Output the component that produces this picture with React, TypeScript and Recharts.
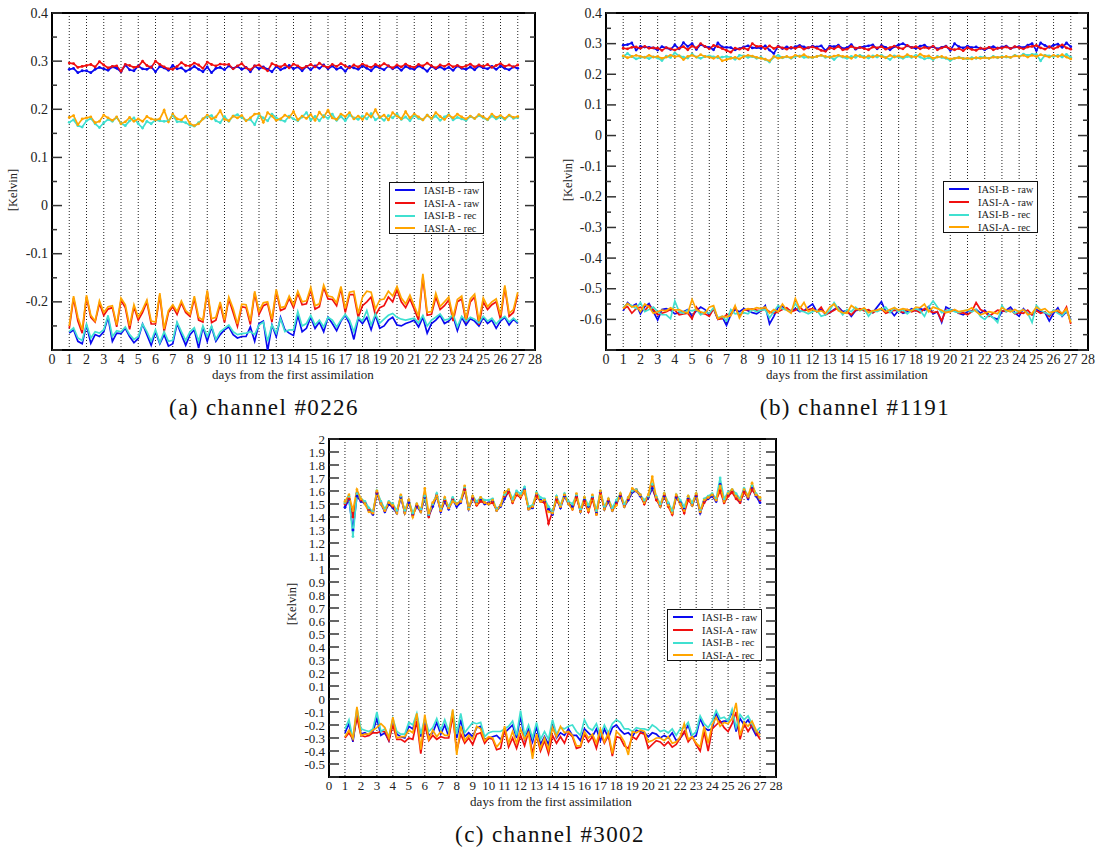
import React from 'react';
import { LineChart, Line, XAxis, YAxis, CartesianGrid, ReferenceArea } from 'recharts';

// 6-hourly analyses, first one on day 1
const FIRST_DAY = 1;
const STEPS_PER_DAY = 4;

const dayTicks = [0, 1, 2, 3, 4, 5, 6, 7, 8, 9, 10, 11, 12, 13, 14, 15, 16, 17, 18, 19, 20, 21, 22, 23, 24, 25, 26, 27, 28];

const seriesNames = ['IASI-B - raw', 'IASI-A - raw', 'IASI-B - rec', 'IASI-A - rec'];
const seriesColors = ['#0a0af0', '#f01010', '#40e0d0', '#ffa500'];

// all values below in mK

// channel 0226
const a_bRawHi = [
  283, 285, 276, 280, 280, 276, 283, 287, 284, 281, 288, 285, 278, 292, 282, 280, 290, 284, 283, 288,
  278, 289, 286, 281, 291, 284, 286, 279, 283, 289, 283, 278, 288, 276, 285, 287, 282, 290, 285, 289,
  283, 287, 278, 290, 284, 288, 283, 278, 289, 282, 286, 291, 284, 288, 280, 289, 282, 290, 285, 292,
  284, 290, 283, 287, 279, 289, 286, 283, 290, 285, 280, 289, 286, 282, 290, 284, 288, 281, 289, 285,
  283, 290, 286, 279, 289, 284, 288, 283, 287, 281, 290, 285, 283, 288, 282, 290, 286, 284, 289, 283,
  290, 285, 282, 288, 285,
];
const a_aRawHi = [
  296, 295, 287, 289, 291, 293, 288, 299, 292, 286, 289, 290, 279, 293, 291, 287, 289, 300, 291, 287,
  300, 293, 288, 284, 283, 289, 297, 291, 290, 296, 292, 285, 298, 293, 290, 294, 293, 293, 284, 290,
  295, 286, 282, 290, 292, 286, 280, 295, 291, 288, 293, 286, 294, 290, 285, 289, 293, 288, 296, 290,
  287, 293, 289, 295, 290, 286, 292, 288, 294, 290, 287, 293, 289, 295, 290, 286, 292, 288, 294, 289,
  287, 293, 290, 296, 290, 286, 292, 289, 294, 288, 291, 287, 290, 294, 288, 292, 289, 293, 287, 291,
  295, 289, 292, 288, 292,
];
const a_bRecHi = [
  173, 178, 166, 163, 176, 181, 170, 162, 172, 179, 175, 183, 171, 166, 176, 182, 170, 161, 175, 170,
  178, 176, 175, 176, 188, 174, 175, 172, 167, 165, 172, 180, 185, 187, 176, 172, 185, 175, 186, 189,
  183, 177, 179, 168, 188, 182, 176, 190, 182, 178, 175, 186, 180, 176, 184, 193, 178, 185, 176, 187,
  181, 190, 177, 185, 176, 188, 182, 179, 186, 180, 191, 178, 184, 177, 187, 182, 190, 179, 184, 176,
  187, 181, 178, 188, 180, 186, 177, 184, 189, 178, 183, 180, 177, 185, 181, 187, 182, 178, 186, 180,
  184, 179, 187, 181, 183,
];
const a_aRecHi = [
  183, 187, 168, 180, 182, 184, 172, 175, 188, 182, 177, 184, 170, 174, 183, 175, 180, 175, 185, 180,
  178, 180, 198, 174, 190, 180, 178, 186, 170, 166, 170, 180, 188, 180, 184, 197, 179, 176, 186, 182,
  187, 176, 182, 190, 191, 173, 193, 186, 177, 180, 188, 183, 195, 178, 186, 181, 189, 177, 194, 184,
  198, 182, 179, 190, 185, 193, 180, 186, 179, 191, 184, 199, 183, 188, 178, 193, 186, 180, 195, 182,
  190, 184, 178, 188, 181, 193, 185, 179, 188, 182, 190, 184, 180, 186, 181, 189, 184, 179, 190, 183,
  187, 181, 188, 183, 185,
];
const a_bRawLo = [
  -265, -258, -282, -287, -248, -286, -268, -272, -262, -232, -282, -265, -266, -255, -272, -285, -276, -246, -268, -290,
  -262, -287, -268, -292, -287, -245, -268, -290, -268, -258, -296, -252, -282, -252, -282, -268, -258, -252, -268, -275,
  -272, -272, -252, -282, -245, -240, -302, -248, -272, -232, -258, -265, -270, -228, -262, -255, -232, -255, -242, -262,
  -232, -245, -260, -240, -228, -245, -278, -235, -245, -232, -258, -228, -255, -250, -238, -232, -248, -250, -245, -242,
  -238, -252, -232, -265, -245, -238, -228, -245, -240, -230, -260, -232, -248, -235, -240, -250, -232, -245, -238, -255,
  -240, -232, -248, -236, -245,
];
const a_aRawLo = [
  -255, -192, -240, -265, -190, -232, -242, -203, -228, -215, -212, -252, -197, -212, -257, -210, -238, -222, -200, -246,
  -246, -186, -262, -222, -210, -226, -202, -222, -230, -193, -238, -242, -178, -243, -238, -205, -243, -194, -222, -251,
  -210, -212, -247, -182, -226, -208, -204, -242, -178, -218, -214, -193, -212, -182, -206, -204, -175, -215, -210, -170,
  -194, -195, -208, -172, -222, -185, -185, -232, -208, -200, -190, -228, -212, -208, -190, -200, -175, -200, -212, -194,
  -215, -238, -148, -228, -226, -190, -216, -208, -196, -240, -200, -194, -242, -200, -190, -248, -200, -216, -206, -200,
  -236, -170, -230, -222, -185,
];
const a_bRecLo = [
  -262, -254, -275, -280, -246, -275, -262, -265, -258, -228, -272, -260, -262, -252, -268, -278, -272, -246, -262, -282,
  -258, -285, -262, -282, -280, -242, -262, -280, -262, -254, -282, -250, -272, -250, -278, -262, -255, -248, -262, -268,
  -266, -265, -262, -268, -248, -242, -282, -248, -265, -235, -262, -258, -258, -220, -250, -245, -228, -248, -238, -252,
  -232, -238, -252, -238, -226, -238, -262, -232, -240, -218, -248, -225, -244, -236, -228, -224, -232, -236, -238, -236,
  -234, -244, -228, -250, -238, -232, -225, -238, -236, -226, -252, -230, -240, -232, -236, -244, -230, -240, -234, -246,
  -236, -230, -242, -234, -242,
];
const a_aRecLo = [
  -250, -188, -232, -258, -186, -228, -240, -198, -222, -210, -208, -248, -192, -206, -250, -206, -232, -216, -196, -240,
  -242, -182, -256, -218, -206, -220, -198, -218, -226, -188, -232, -238, -176, -235, -232, -200, -238, -190, -214, -246,
  -205, -206, -240, -178, -220, -202, -200, -236, -174, -212, -210, -188, -206, -178, -200, -198, -170, -208, -204, -165,
  -188, -190, -202, -168, -214, -180, -178, -224, -190, -178, -180, -215, -196, -194, -178, -188, -168, -192, -204, -186,
  -208, -230, -142, -222, -220, -182, -210, -200, -190, -232, -195, -188, -236, -194, -184, -240, -192, -210, -200, -194,
  -228, -166, -224, -216, -180,
];

// channel 1191
const b_bRawHi = [
  295, 297, 302, 279, 291, 289, 288, 286, 279, 290, 286, 281, 296, 283, 303, 291, 300, 281, 297, 290,
  288, 280, 302, 289, 288, 287, 280, 284, 289, 293, 286, 287, 285, 293, 279, 268, 292, 284, 289, 285,
  290, 294, 289, 286, 292, 289, 293, 277, 292, 290, 295, 284, 287, 297, 282, 288, 290, 293, 296, 283,
  294, 288, 280, 290, 296, 300, 293, 288, 285, 292, 295, 286, 290, 283, 288, 292, 278, 300, 290, 286,
  292, 287, 289, 285, 280, 287, 290, 285, 289, 292, 284, 289, 290, 287, 295, 300, 278, 302, 294, 288,
  295, 298, 288, 302, 290,
];
const b_aRawHi = [
  285, 283, 288, 289, 285, 291, 285, 286, 285, 278, 287, 283, 279, 285, 290, 280, 292, 286, 300, 291,
  283, 294, 290, 284, 278, 272, 285, 282, 286, 280, 300, 291, 292, 283, 293, 284, 290, 286, 282, 288,
  285, 290, 282, 287, 289, 285, 278, 275, 287, 283, 291, 280, 282, 291, 285, 288, 284, 280, 289, 286,
  290, 282, 287, 292, 286, 283, 294, 287, 290, 283, 288, 285, 292, 280, 286, 290, 283, 280, 284, 277,
  287, 281, 278, 285, 283, 288, 280, 285, 286, 289, 284, 290, 287, 283, 289, 291, 294, 286, 282, 290,
  283, 289, 296, 286, 282,
];
const b_bRecHi = [
  258, 268, 258, 250, 255, 256, 251, 257, 253, 245, 259, 255, 270, 260, 256, 253, 266, 256, 252, 258,
  260, 257, 254, 256, 258, 255, 249, 262, 260, 255, 258, 252, 255, 248, 240, 256, 262, 254, 257, 252,
  258, 260, 255, 256, 254, 258, 262, 255, 258, 248, 260, 256, 252, 258, 255, 262, 257, 253, 260, 256,
  262, 255, 248, 260, 256, 252, 258, 255, 262, 256, 250, 254, 248, 258, 255, 252, 245, 252, 256, 252,
  250, 254, 252, 256, 255, 252, 258, 254, 258, 256, 255, 262, 258, 266, 262, 265, 265, 244, 262, 260,
  258, 262, 256, 265, 255,
];
const b_aRecHi = [
  260, 254, 258, 262, 258, 255, 262, 256, 258, 252, 256, 262, 257, 260, 248, 258, 262, 256, 264, 258,
  256, 252, 258, 244, 248, 252, 255, 250, 258, 262, 259, 255, 252, 249, 244, 258, 252, 255, 258, 254,
  262, 258, 264, 256, 255, 258, 262, 258, 256, 259, 262, 258, 258, 252, 262, 258, 254, 260, 256, 262,
  258, 254, 262, 256, 260, 256, 264, 258, 256, 266, 258, 260, 252, 256, 258, 254, 250, 252, 254, 251,
  252, 250, 254, 252, 254, 252, 256, 255, 256, 258, 255, 260, 258, 262, 256, 262, 258, 264, 260, 256,
  262, 258, 264, 256, 250,
];
const b_bRawLo = [
  -572, -545, -558, -550, -582, -558, -548, -575, -602, -568, -565, -570, -582, -578, -575, -568, -590, -572, -560, -568,
  -585, -565, -600, -592, -620, -585, -568, -575, -565, -572, -578, -582, -572, -555, -615, -590, -560, -558, -568, -572,
  -565, -575, -572, -560, -550, -575, -568, -582, -578, -568, -560, -575, -572, -590, -572, -568, -568, -570, -578, -560,
  -542, -575, -570, -588, -570, -580, -575, -565, -572, -565, -570, -558, -582, -575, -610, -560, -568, -572, -580, -585,
  -575, -572, -568, -580, -570, -585, -595, -600, -575, -570, -560, -578, -590, -565, -580, -585, -568, -575, -578, -605,
  -580, -562, -590, -575, -600,
];
const b_aRawLo = [
  -565, -558, -580, -565, -560, -572, -555, -568, -585, -580, -575, -568, -570, -585, -582, -580, -598, -560, -580, -582,
  -590, -565, -600, -598, -585, -582, -560, -590, -570, -568, -566, -570, -572, -565, -575, -580, -575, -568, -562, -575,
  -570, -560, -572, -568, -565, -575, -560, -585, -578, -570, -562, -580, -575, -585, -570, -565, -572, -568, -578, -570,
  -565, -580, -575, -570, -572, -578, -568, -575, -570, -578, -565, -572, -578, -575, -605, -570, -575, -570, -580, -578,
  -585, -575, -545, -568, -575, -590, -580, -570, -572, -575, -568, -582, -578, -580, -570, -585, -572, -580, -575, -590,
  -570, -575, -585, -560, -615,
];
const b_bRecLo = [
  -560, -550, -555, -565, -545, -575, -568, -560, -575, -585, -585, -598, -540, -575, -580, -570, -572, -568, -585, -575,
  -580, -562, -595, -590, -605, -568, -582, -580, -578, -582, -568, -575, -570, -568, -595, -575, -555, -565, -570, -575,
  -548, -572, -575, -582, -575, -570, -590, -585, -570, -545, -565, -585, -568, -575, -560, -572, -565, -590, -572, -575,
  -568, -560, -578, -562, -575, -568, -582, -570, -565, -572, -590, -560, -540, -560, -578, -572, -568, -575, -578, -572,
  -570, -575, -568, -590, -600, -585, -595, -610, -555, -575, -570, -580, -572, -570, -580, -610, -555, -570, -578, -585,
  -570, -580, -588, -572, -605,
];
const b_aRecLo = [
  -565, -548, -560, -555, -575, -550, -560, -580, -575, -570, -572, -562, -570, -568, -575, -580, -535, -570, -575, -580,
  -560, -555, -598, -590, -592, -588, -555, -595, -570, -565, -568, -562, -565, -560, -580, -568, -575, -550, -570, -580,
  -532, -565, -545, -575, -568, -575, -572, -580, -560, -550, -572, -578, -580, -555, -565, -570, -562, -578, -572, -570,
  -565, -575, -568, -562, -570, -565, -568, -572, -560, -562, -550, -575, -560, -565, -570, -578, -575, -568, -575, -572,
  -570, -562, -575, -585, -580, -575, -578, -582, -562, -570, -575, -568, -575, -568, -585, -580, -560, -570, -565, -578,
  -575, -570, -580, -565, -610,
];

// channel 3002
const c_bRawHi = [
  1475, 1535, 1300, 1560, 1520, 1505, 1450, 1420, 1580, 1500, 1440, 1500, 1470, 1430, 1550, 1430, 1510, 1420, 1480, 1440,
  1550, 1410, 1480, 1560, 1440, 1520, 1460, 1530, 1480, 1510, 1610, 1460, 1540, 1510, 1530, 1500, 1510, 1520, 1450, 1480,
  1540, 1600, 1520, 1580, 1560, 1610, 1460, 1470, 1570, 1530, 1520, 1460, 1420, 1540, 1470, 1560, 1500, 1480, 1560, 1440,
  1530, 1480, 1550, 1430, 1590, 1460, 1520, 1450, 1510, 1560, 1480, 1530, 1590, 1600, 1560, 1510, 1550, 1620, 1540, 1480,
  1560, 1500, 1430, 1550, 1510, 1460, 1540, 1490, 1560, 1430, 1520, 1540, 1560, 1520, 1650, 1520, 1570, 1600, 1560, 1520,
  1600, 1540, 1620, 1560, 1510,
];
const c_aRawHi = [
  1500, 1540, 1400, 1580, 1530, 1510, 1460, 1430, 1590, 1510, 1450, 1510, 1480, 1440, 1560, 1440, 1530, 1410, 1490, 1450,
  1560, 1400, 1500, 1570, 1450, 1530, 1470, 1540, 1500, 1520, 1610, 1470, 1550, 1490, 1520, 1510, 1500, 1510, 1460, 1490,
  1560, 1590, 1510, 1570, 1550, 1600, 1470, 1480, 1560, 1520, 1510, 1350, 1440, 1530, 1480, 1570, 1510, 1460, 1550, 1450,
  1520, 1440, 1540, 1420, 1580, 1470, 1530, 1460, 1500, 1570, 1490, 1540, 1600, 1610, 1570, 1500, 1560, 1640, 1530, 1490,
  1570, 1480, 1420, 1560, 1500, 1430, 1530, 1500, 1570, 1440, 1510, 1550, 1570, 1530, 1600, 1510, 1560, 1590, 1540, 1510,
  1590, 1550, 1610, 1570, 1530,
];
const c_bRecHi = [
  1510, 1560, 1250, 1580, 1540, 1520, 1470, 1440, 1600, 1520, 1460, 1520, 1500, 1450, 1560, 1450, 1530, 1430, 1500, 1460,
  1560, 1420, 1500, 1580, 1460, 1540, 1480, 1550, 1500, 1530, 1630, 1470, 1560, 1520, 1550, 1530, 1530, 1540, 1460, 1490,
  1570, 1610, 1540, 1600, 1580, 1630, 1480, 1490, 1590, 1550, 1540, 1480, 1440, 1560, 1490, 1580, 1520, 1500, 1570, 1460,
  1550, 1490, 1560, 1450, 1600, 1480, 1540, 1470, 1530, 1580, 1500, 1550, 1600, 1610, 1570, 1530, 1560, 1650, 1560, 1500,
  1580, 1510, 1450, 1570, 1530, 1480, 1560, 1510, 1580, 1450, 1540, 1560, 1580, 1540, 1700, 1540, 1590, 1610, 1580, 1540,
  1620, 1560, 1640, 1580, 1540,
];
const c_aRecHi = [
  1520, 1570, 1450, 1610, 1540, 1500, 1440, 1430, 1600, 1500, 1450, 1510, 1490, 1430, 1570, 1430, 1530, 1400, 1500, 1440,
  1620, 1430, 1510, 1560, 1450, 1550, 1470, 1520, 1500, 1520, 1640, 1460, 1560, 1500, 1550, 1510, 1500, 1530, 1450, 1490,
  1590, 1610, 1520, 1580, 1560, 1600, 1460, 1480, 1580, 1520, 1530, 1440, 1430, 1550, 1480, 1570, 1500, 1460, 1580, 1440,
  1550, 1450, 1570, 1420, 1600, 1460, 1540, 1450, 1490, 1580, 1480, 1550, 1620, 1600, 1570, 1510, 1570, 1710, 1550, 1480,
  1580, 1490, 1430, 1570, 1500, 1450, 1560, 1490, 1580, 1440, 1530, 1550, 1570, 1530, 1640, 1520, 1580, 1610, 1560, 1530,
  1610, 1560, 1660, 1570, 1550,
];
const c_bRawLo = [
  -260, -190, -330, -110, -270, -260, -280, -250, -150, -280, -260, -320, -170, -270, -290, -300, -210, -230, -130, -290,
  -170, -280, -260, -180, -270, -200, -290, -110, -300, -160, -290, -260, -290, -220, -210, -310, -300, -290, -280, -310,
  -260, -230, -200, -300, -130, -310, -230, -330, -210, -350, -290, -350, -200, -300, -260, -280, -230, -280, -280, -320,
  -230, -260, -290, -230, -320, -230, -300, -220, -200, -240, -270, -260, -290, -240, -250, -260, -290, -260, -270, -300,
  -280, -300, -260, -320, -300, -260, -200, -300, -280, -150, -220, -240, -230, -110, -180, -170, -170, -100, -250, -150,
  -200, -160, -220, -280, -250,
];
const c_aRawLo = [
  -300, -260, -310, -140, -280, -290, -280, -260, -260, -250, -250, -320, -200, -310, -310, -330, -300, -310, -170, -420,
  -200, -320, -280, -310, -290, -300, -300, -130, -400, -270, -340, -300, -350, -270, -260, -340, -300, -310, -390, -380,
  -230, -370, -300, -380, -280, -360, -250, -420, -280, -400, -320, -420, -280, -340, -290, -340, -260, -290, -380, -370,
  -270, -330, -290, -380, -260, -340, -280, -440, -290, -300, -360, -380, -290, -310, -260, -270, -380, -350, -320, -330,
  -360, -330, -370, -350, -300, -250, -330, -290, -350, -400, -250, -400, -230, -200, -170, -220, -250, -190, -100, -310,
  -190, -250, -200, -260, -310,
];
const c_bRecLo = [
  -230, -160, -310, -70, -230, -240, -250, -230, -100, -250, -230, -290, -150, -250, -270, -270, -180, -200, -110, -270,
  -150, -250, -220, -150, -240, -160, -250, -90, -270, -110, -260, -220, -180, -190, -180, -290, -260, -250, -250, -250,
  -230, -210, -170, -280, -90, -280, -200, -300, -180, -310, -250, -310, -160, -270, -220, -230, -210, -200, -250, -280,
  -160, -220, -240, -190, -280, -200, -260, -190, -160, -180, -230, -230, -250, -220, -230, -230, -240, -200, -220, -250,
  -240, -260, -230, -280, -230, -220, -180, -280, -250, -130, -190, -220, -170, -90, -150, -140, -170, -80, -220, -120,
  -160, -130, -190, -250, -220,
];
const c_aRecLo = [
  -290, -240, -300, -60, -280, -270, -270, -240, -220, -190, -220, -300, -140, -300, -290, -290, -240, -260, -110, -390,
  -120, -310, -240, -290, -250, -280, -280, -80, -430, -210, -320, -280, -310, -210, -230, -320, -290, -300, -370, -330,
  -210, -340, -250, -340, -230, -310, -260, -460, -270, -380, -300, -390, -220, -290, -210, -260, -250, -280, -360, -360,
  -250, -300, -270, -340, -230, -330, -260, -420, -250, -280, -330, -430, -250, -260, -240, -250, -330, -320, -300, -300,
  -320, -290, -340, -330, -290, -190, -310, -290, -340, -370, -210, -340, -200, -140, -210, -180, -190, -150, -30, -280,
  -180, -210, -170, -240, -280,
];

const ticksA = [-0.3, -0.25, -0.2, -0.15, -0.1, -0.05, 0, 0.05, 0.1, 0.15, 0.2, 0.25, 0.3, 0.35, 0.4];
const ticksB = [-0.7, -0.65, -0.6, -0.55, -0.5, -0.45, -0.4, -0.35, -0.3, -0.25, -0.2, -0.15, -0.1, -0.05, 0, 0.05, 0.1, 0.15, 0.2, 0.25, 0.3, 0.35, 0.4];
const ticksC = [-0.6, -0.5, -0.4, -0.3, -0.2, -0.1, 0, 0.1, 0.2, 0.3, 0.4, 0.5, 0.6, 0.7, 0.8, 0.9, 1, 1.1, 1.2, 1.3, 1.4, 1.5, 1.6, 1.7, 1.8, 1.9, 2];

const SERIF = "'Liberation Serif', 'DejaVu Serif', 'Times New Roman', Times, serif";

type PanelSpec = {
  id: string;
  caption: string;
  plot: { x: number; y: number; w: number; h: number };
  domain: [number, number];
  ticks: number[];
  tickFont: number;
  hi: number[][]; // upper curves, legend order
  lo: number[][]; // lower curves, legend order
  legend: { x: number; y: number };
  yTitle: { x: number; y: number };
  xTitle: { x: number; y: number };
  captionPos: { x: number; y: number };
};

const panels: PanelSpec[] = [
  {
    id: 'a',
    caption: '(a) channel #0226',
    plot: { x: 52, y: 13, w: 483, h: 337 },
    domain: [-0.3, 0.4],
    ticks: ticksA,
    tickFont: 14,
    hi: [a_bRawHi, a_aRawHi, a_bRecHi, a_aRecHi],
    lo: [a_bRawLo, a_aRawLo, a_bRecLo, a_aRecLo],
    legend: { x: 389, y: 182 },
    yTitle: { x: 13, y: 190 },
    xTitle: { x: 293, y: 375 },
    captionPos: { x: 264, y: 408 },
  },
  {
    id: 'b',
    caption: '(b) channel #1191',
    plot: { x: 606, y: 13, w: 482, h: 337 },
    domain: [-0.7, 0.4],
    ticks: ticksB,
    tickFont: 14,
    hi: [b_bRawHi, b_aRawHi, b_bRecHi, b_aRecHi],
    lo: [b_bRawLo, b_aRawLo, b_bRecLo, b_aRecLo],
    legend: { x: 943, y: 181 },
    yTitle: { x: 568, y: 180 },
    xTitle: { x: 847, y: 375 },
    captionPos: { x: 855, y: 408 },
  },
  {
    id: 'c',
    caption: '(c) channel #3002',
    plot: { x: 329, y: 439, w: 447, h: 338 },
    domain: [-0.6, 2],
    ticks: ticksC,
    tickFont: 13,
    hi: [c_bRawHi, c_aRawHi, c_bRecHi, c_aRecHi],
    lo: [c_bRawLo, c_aRawLo, c_bRecLo, c_aRecLo],
    legend: { x: 667, y: 609 },
    yTitle: { x: 292, y: 604 },
    xTitle: { x: 551, y: 802 },
    captionPos: { x: 550, y: 835 },
  },
];

const MARGIN = { top: 10, right: 10, left: 0, bottom: 0 };
const Y_W = 50;
const X_H = 30;

const fmt = (v: number) => String(Math.round(v * 10) / 10);
const isMajor = (v: number) => Math.abs(v * 10 - Math.round(v * 10)) < 1e-6;

const YTick = (props: any) => {
  const { x, y, payload, plotW, lo, fontSize } = props;
  const v = payload.value as number;
  const major = isMajor(v);
  const len = major ? 10 : 5;
  return (
    <g>
      <line x1={x} x2={x + len} y1={y} y2={y} stroke="#333" strokeWidth={1.5} />
      <line x1={x + plotW} x2={x + plotW - len} y1={y} y2={y} stroke="#333" strokeWidth={1.5} />
      {major && v > lo + 1e-6 && (
        <text x={x - 4} y={y} textAnchor="end" dominantBaseline="central" fontSize={fontSize} style={{ fontFamily: SERIF }} fill="#222">
          {fmt(v)}
        </text>
      )}
    </g>
  );
};

const XTick = (props: any) => {
  const { x, y, payload, fontSize } = props;
  return (
    <text x={x} y={y} dy="0.75em" textAnchor="middle" fontSize={fontSize} style={{ fontFamily: SERIF }} fill="#222">
      {payload.value}
    </text>
  );
};

const Legend = ({ x, y }: { x: number; y: number }) => (
  <div
    style={{
      position: 'absolute',
      left: x,
      top: y,
      width: 95,
      height: 52,
      boxSizing: 'border-box',
      border: '1.5px solid #111',
      background: '#fff',
      padding: '1px 0 0 5px',
      fontFamily: SERIF,
      fontSize: 10.5,
      color: '#222',
    }}
  >
    {seriesNames.map((name, i) => (
      <div key={name} style={{ display: 'flex', alignItems: 'center', height: 12.7 }}>
        <span style={{ display: 'inline-block', width: 20, height: 2, background: seriesColors[i], marginRight: 9 }} />
        <span>{name}</span>
      </div>
    ))}
  </div>
);

const Panel = ({ spec }: { spec: PanelSpec }) => {
  const { plot, domain } = spec;
  const rows = spec.hi[0].map((_, i) => {
    const row: Record<string, number> = { day: FIRST_DAY + i / STEPS_PER_DAY };
    spec.hi.forEach((s, k) => (row[`hi${k}`] = s[i] / 1000));
    spec.lo.forEach((s, k) => (row[`lo${k}`] = s[i] / 1000));
    return row;
  });
  const width = Y_W + plot.w + MARGIN.left + MARGIN.right;
  const height = plot.h + X_H + MARGIN.top + MARGIN.bottom;

  return (
    <>
      <div style={{ position: 'absolute', left: plot.x - Y_W - MARGIN.left, top: plot.y - MARGIN.top }}>
        <LineChart width={width} height={height} data={rows} margin={MARGIN}>
          <CartesianGrid horizontal={false} stroke="#222" strokeDasharray="1 2" strokeWidth={1} />
          <XAxis
            dataKey="day"
            type="number"
            domain={[0, 28]}
            ticks={dayTicks}
            interval={0}
            height={X_H}
            axisLine={false}
            tickLine={false}
            tickSize={0}
            tickMargin={3}
            tick={(p: any) => <XTick {...p} fontSize={spec.tickFont} />}
          />
          <YAxis
            type="number"
            domain={domain}
            ticks={spec.ticks}
            interval={0}
            width={Y_W}
            allowDataOverflow
            axisLine={false}
            tickLine={false}
            tickSize={0}
            tickMargin={0}
            tick={(p: any) => <YTick {...p} plotW={plot.w} lo={domain[0]} fontSize={spec.tickFont} />}
          />
          <ReferenceArea x1={0} x2={28} y1={domain[0]} y2={domain[1]} fill="none" stroke="#000" strokeWidth={2} ifOverflow="visible" />
          {spec.lo.map((_, k) => (
            <Line
              key={`lo${k}`}
              dataKey={`lo${k}`}
              type="linear"
              stroke={seriesColors[k]}
              strokeWidth={1.7}
              dot={false}
              activeDot={false}
              isAnimationActive={false}
            />
          ))}
          {spec.hi.map((_, k) => (
            <Line
              key={`hi${k}`}
              dataKey={`hi${k}`}
              type="linear"
              stroke={seriesColors[k]}
              strokeWidth={1.7}
              dot={{ r: 1.4, fill: seriesColors[k], stroke: 'none' }}
              activeDot={false}
              isAnimationActive={false}
            />
          ))}
        </LineChart>
      </div>
      <Legend x={spec.legend.x} y={spec.legend.y} />
      <div
        style={{
          position: 'absolute',
          left: spec.yTitle.x,
          top: spec.yTitle.y,
          transform: 'translate(-50%, -50%) rotate(-90deg)',
          fontFamily: SERIF,
          fontSize: 12.5,
          color: '#222',
          whiteSpace: 'nowrap',
        }}
      >
        [Kelvin]
      </div>
      <div
        style={{
          position: 'absolute',
          left: spec.xTitle.x,
          top: spec.xTitle.y,
          transform: 'translate(-50%, -50%)',
          fontFamily: SERIF,
          fontSize: 13,
          color: '#222',
          whiteSpace: 'nowrap',
        }}
      >
        days from the first assimilation
      </div>
      <div
        style={{
          position: 'absolute',
          left: spec.captionPos.x,
          top: spec.captionPos.y,
          transform: 'translate(-50%, -50%)',
          fontFamily: SERIF,
          fontSize: 23,
          letterSpacing: 1.4,
          color: '#111',
          whiteSpace: 'nowrap',
        }}
      >
        {spec.caption}
      </div>
    </>
  );
};

export default function App() {
  return (
    <div style={{ position: 'absolute', left: 0, top: 0, width: 1099, height: 857, background: '#fff', overflow: 'hidden' }}>
      {panels.map((p) => (
        <Panel key={p.id} spec={p} />
      ))}
    </div>
  );
}
